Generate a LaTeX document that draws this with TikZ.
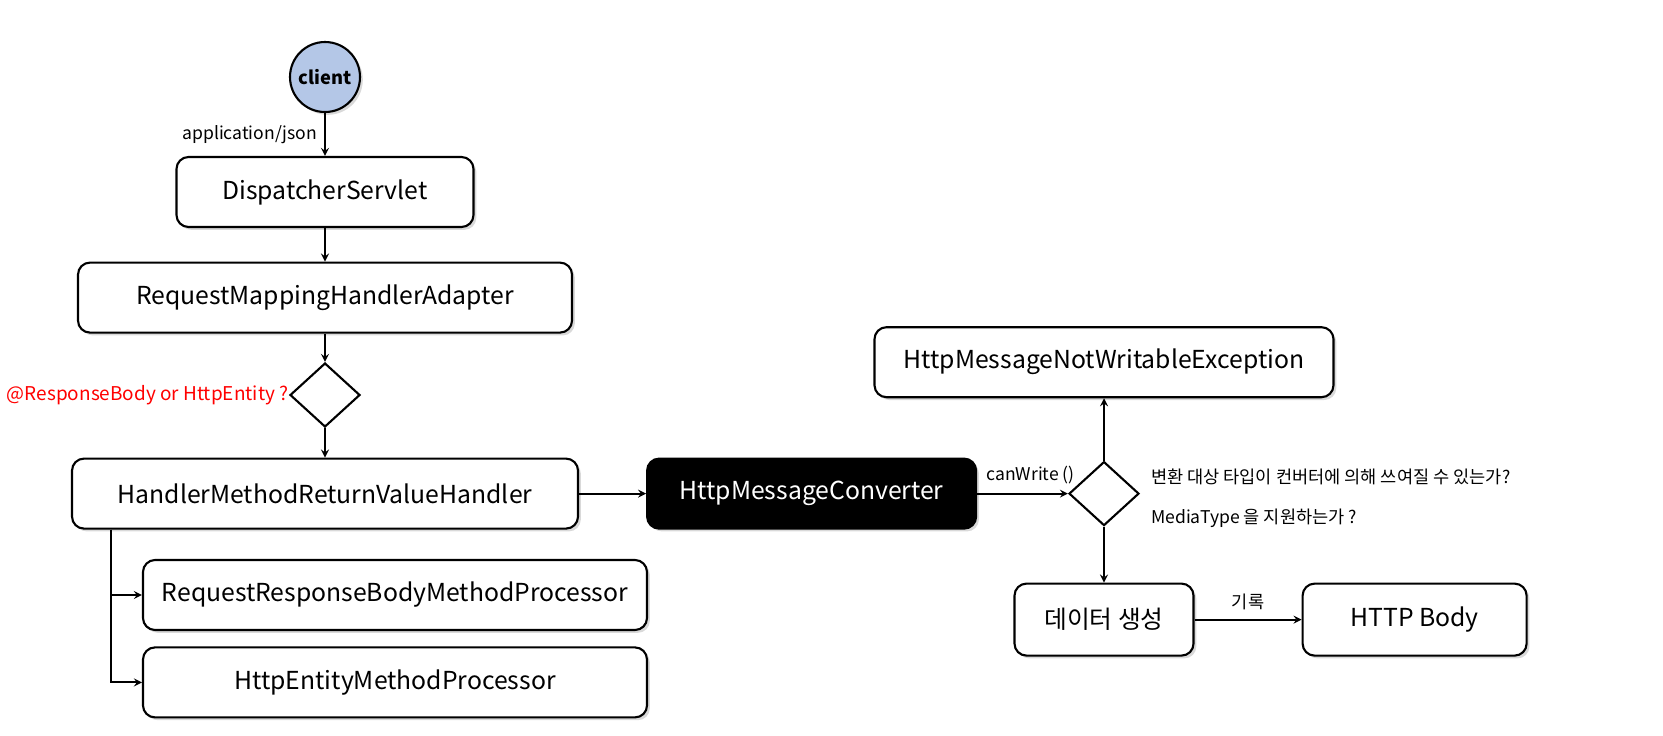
\documentclass[tikz,border=0pt]{standalone}
\usepackage{fontspec}
\setmainfont{Noto Sans CJK KR}
\usetikzlibrary{shapes.geometric, arrows, shadows}
\definecolor{clientblue}{HTML}{B4C7E7}
\tikzstyle{normal} = [rectangle, rounded corners=0.3cm, minimum height=1.75cm, text centered, draw=black, line width=1.5pt, fill=white, font=\fontsize{17.6}{21}\selectfont, drop shadow={shadow xshift=2pt, shadow yshift=-2pt, opacity=0.3}]
\tikzstyle{dark} = [normal, fill=black, text=white]
\tikzstyle{start} = [circle, minimum size=1.75cm, inner sep=0pt, draw=black, line width=1.5pt, fill=clientblue, font=\fontsize{13}{16}\selectfont\bfseries, drop shadow={shadow xshift=2pt, shadow yshift=-2pt, opacity=0.3}]
\tikzstyle{decision} = [diamond, minimum width=1.75cm, minimum height=1.6cm, inner sep=0pt, draw=black, line width=1.5pt, fill=white]
\tikzstyle{note} = [font=\fontsize{12.5}{15}\selectfont, inner sep=2pt]
\tikzstyle{arrow} = [line width=1.5pt,->,>=stealth]

\begin{document}
\begin{tikzpicture}[node distance=3cm]
\useasboundingbox (0,0) rectangle (41.575,-18.375);

%% NODES

\node (client) [start] at (8.125,-1.925) {client};
\node (ds) [normal, below of=client, minimum width=7.425cm, node distance=2.875cm] {DispatcherServlet};
\node (rmha) [normal, below of=ds, minimum width=12.35cm, node distance=2.64cm] {RequestMappingHandlerAdapter};
\node (dec1) [decision, below of=rmha, node distance=2.435cm] {};
\node (dec1_label) [note, left of=dec1, anchor=east, node distance=0.875cm, inner sep=1pt, text=red, font=\fontsize{13.5}{16}\selectfont] {@ResponseBody or HttpEntity ?};
\node (hmrvh) [normal, below of=dec1, minimum width=12.65cm, node distance=2.465cm] {HandlerMethodReturnValueHandler};
\node (rrbmp) [normal, below of=hmrvh, xshift=1.75cm, minimum width=12.6cm, node distance=2.535cm] {RequestResponseBodyMethodProcessor};
\node (hemp) [normal, below of=rrbmp, minimum width=12.6cm, node distance=2.185cm] {HttpEntityMethodProcessor};
\coordinate (fork) at ([xshift=1cm]hmrvh.south west);

\node (hmc) [dark, right of=hmrvh, minimum width=8.225cm, node distance=12.165cm] {HttpMessageConverter};
\node (dec2) [decision, right of=hmc, node distance=7.31cm] {};
\node (hmnwe) [normal, above of=dec2, minimum width=11.475cm, node distance=3.285cm] {HttpMessageNotWritableException};
\node (q1) [note, anchor=west] at (28.7,-11.925) {변환 대상 타입이 컨버터에 의해 쓰여질 수 있는가?};
\node (q2) [note, anchor=west] at (28.7,-12.95) {MediaType 을 지원하는가 ?};
\node (data) [normal, below of=dec2, minimum width=4.475cm, minimum height=1.8cm, node distance=3.15cm] {데이터 생성};
\node (body) [normal, right of=data, minimum width=5.6cm, minimum height=1.8cm, node distance=7.765cm] {HTTP Body};

%% ARROWS

\draw [arrow] (client) -- node[note, left, xshift=-3pt] {application/json} (ds);
\draw [arrow] (ds) -- (rmha);
\draw [arrow] (rmha) -- (dec1);
\draw [arrow] (dec1) -- (hmrvh);
\draw [arrow] (fork) |- (rrbmp);
\draw [arrow] (fork) |- (hemp);
\draw [arrow] (hmrvh) -- (hmc);
\draw [arrow] (hmc) -- node[note, above, xshift=0.2cm, yshift=4pt] {canWrite ()} (dec2);
\draw [arrow] (dec2) -- (hmnwe);
\draw [arrow] (dec2) -- (data);
\draw [arrow] (data) -- node[note, above, yshift=4pt] {기록} (body);

\end{tikzpicture}
\end{document}
